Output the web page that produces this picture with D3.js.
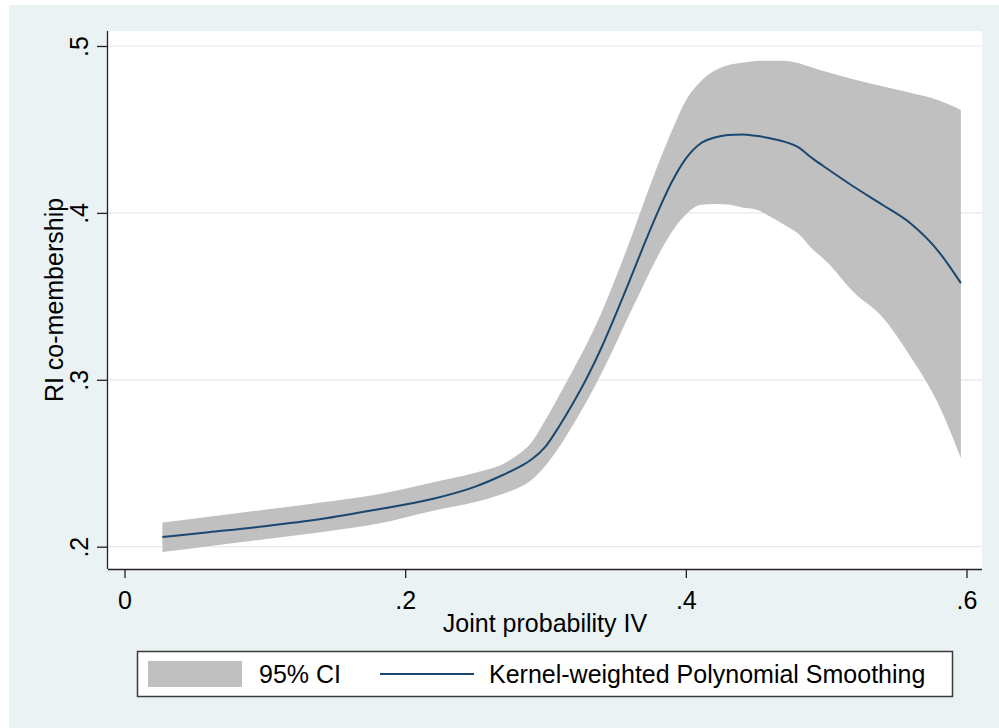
<!DOCTYPE html>
<html>
<head>
<meta charset="utf-8">
<script src="https://cdn.jsdelivr.net/npm/d3@7/dist/d3.min.js"></script>
<style>
  html, body { margin: 0; padding: 0; background: #ffffff; }
  svg { display: block; }
  text { font-family: "Liberation Sans", Arial, sans-serif; fill: #000; }
</style>
</head>
<body>
<svg id="chart" width="999" height="728"></svg>
<script>
// ---- data ----
const xValues = [0.027, 0.06, 0.10, 0.14, 0.18, 0.22, 0.25, 0.27, 0.28, 0.29, 0.30, 0.31, 0.32, 0.33, 0.34, 0.35, 0.36, 0.37, 0.38, 0.39, 0.40, 0.41, 0.42, 0.43, 0.44, 0.45, 0.46, 0.47, 0.48, 0.49, 0.50, 0.52, 0.54, 0.56, 0.58, 0.596];
const smoothValues = [0.2058, 0.2087, 0.2123, 0.2166, 0.2223, 0.2287, 0.2360, 0.2431, 0.2472, 0.2522, 0.2600, 0.2725, 0.2865, 0.3020, 0.3195, 0.3390, 0.3595, 0.3805, 0.4005, 0.4185, 0.4325, 0.4413, 0.4450, 0.4467, 0.4470, 0.4462, 0.4447, 0.4427, 0.4394, 0.4328, 0.4269, 0.4155, 0.4049, 0.3938, 0.3770, 0.3579];
const ciUpper = [0.2145, 0.2180, 0.2222, 0.2265, 0.2313, 0.2386, 0.2443, 0.2497, 0.2550, 0.2625, 0.2760, 0.2910, 0.3065, 0.3225, 0.3405, 0.3610, 0.3830, 0.4060, 0.4285, 0.4490, 0.4674, 0.4783, 0.4850, 0.4885, 0.4900, 0.4910, 0.4912, 0.4912, 0.4898, 0.4871, 0.4845, 0.4800, 0.4759, 0.4720, 0.4675, 0.4617];
const ciLower = [0.1968, 0.2003, 0.2045, 0.2087, 0.2137, 0.2216, 0.2268, 0.2318, 0.2350, 0.2400, 0.2485, 0.2600, 0.2735, 0.2880, 0.3040, 0.3215, 0.3395, 0.3570, 0.3740, 0.3885, 0.3990, 0.4048, 0.4054, 0.4050, 0.4033, 0.4021, 0.3978, 0.3929, 0.3876, 0.3785, 0.3710, 0.3521, 0.3376, 0.3139, 0.2853, 0.2530];
const xTicks = [0, 0.2, 0.4, 0.6];
const xTickLabels = ["0", ".2", ".4", ".6"];
const yTicks = [0.2, 0.3, 0.4, 0.5];
const yTickLabels = [".2", ".3", ".4", ".5"];
const xTitle = "Joint probability IV";
const yTitle = "RI co-membership";
const legendLabels = ["95% CI", "Kernel-weighted Polynomial Smoothing"];

// ---- layout ----
const svg = d3.select("#chart");
const plot = { left: 108, right: 982, top: 31, bottom: 569 };
const x = d3.scaleLinear().domain([0, 0.6]).range([124.5, 966.5]);
const y = d3.scaleLinear().domain([0.2, 0.5]).range([546.7, 46]);
const fontSize = 25;

// background
svg.append("rect").attr("x", 9).attr("y", 5).attr("width", 990).attr("height", 723).attr("fill", "#eaf2f3");
svg.append("rect").attr("x", plot.left).attr("y", plot.top)
  .attr("width", plot.right - plot.left).attr("height", plot.bottom - plot.top).attr("fill", "#ffffff");

// gridlines
svg.append("g").selectAll("line").data(yTicks).join("line")
  .attr("x1", plot.left).attr("x2", plot.right)
  .attr("y1", d => y(d)).attr("y2", d => y(d))
  .attr("stroke", "#e1eaef").attr("stroke-width", 1.2);

const data = xValues.map((v, i) => ({ x: v, fit: smoothValues[i], lo: ciLower[i], hi: ciUpper[i] }));

// CI band
svg.append("path").datum(data)
  .attr("fill", "#c0c0c0")
  .attr("d", d3.area().x(d => x(d.x)).y0(d => y(d.lo)).y1(d => y(d.hi)).curve(d3.curveMonotoneX));

// fitted line
svg.append("path").datum(data)
  .attr("fill", "none").attr("stroke", "#1a476f").attr("stroke-width", 2)
  .attr("d", d3.line().x(d => x(d.x)).y(d => y(d.fit)).curve(d3.curveMonotoneX));

// x axis
const xAxis = svg.append("g").attr("transform", `translate(0,${plot.bottom})`)
  .call(d3.axisBottom(x).tickValues(xTicks).tickFormat((d, i) => xTickLabels[i]).tickSizeInner(9).tickSizeOuter(0).tickPadding(13));
xAxis.select(".domain").attr("d", `M${plot.left},0.5H${plot.right}`).attr("stroke", "#222").attr("stroke-width", 1.3);
xAxis.selectAll(".tick line").attr("stroke", "#222").attr("stroke-width", 1.3);
xAxis.selectAll(".tick text").attr("font-size", fontSize).attr("font-family", "Liberation Sans, Arial, sans-serif").attr("fill", "#000");

// y axis
const yAxis = svg.append("g").attr("transform", `translate(${plot.left},0)`)
  .call(d3.axisLeft(y).tickValues(yTicks).tickFormat((d, i) => yTickLabels[i]).tickSizeInner(11).tickSizeOuter(0));
yAxis.select(".domain").attr("d", `M-0.5,${plot.top}V${plot.bottom}`).attr("stroke", "#222").attr("stroke-width", 1.3);
yAxis.selectAll(".tick line").attr("stroke", "#222").attr("stroke-width", 1.3);
yAxis.selectAll(".tick text")
  .attr("font-size", fontSize).attr("font-family", "Liberation Sans, Arial, sans-serif").attr("fill", "#000")
  .attr("x", null).attr("dy", null)
  .attr("text-anchor", "middle")
  .attr("transform", "translate(-20,0) rotate(-90)");

// axis titles
svg.append("text").attr("x", (plot.left + plot.right) / 2).attr("y", 632)
  .attr("text-anchor", "middle").attr("font-size", fontSize).text(xTitle);
svg.append("text").attr("transform", `translate(63,${(plot.top + plot.bottom) / 2}) rotate(-90)`)
  .attr("text-anchor", "middle").attr("font-size", fontSize).text(yTitle);

// legend
const lg = svg.append("g");
lg.append("rect").attr("x", 137.5).attr("y", 651.5).attr("width", 815).attr("height", 45)
  .attr("fill", "#fff").attr("stroke", "#3a3a3a").attr("stroke-width", 1.5);
lg.append("rect").attr("x", 148).attr("y", 661).attr("width", 94).attr("height", 26).attr("fill", "#c0c0c0");
lg.append("text").attr("x", 259).attr("y", 683).attr("font-size", fontSize).text(legendLabels[0]);
lg.append("line").attr("x1", 380).attr("x2", 474).attr("y1", 674).attr("y2", 674)
  .attr("stroke", "#1a476f").attr("stroke-width", 2);
lg.append("text").attr("x", 489).attr("y", 683).attr("font-size", fontSize).text(legendLabels[1]);
</script>
</body>
</html>
